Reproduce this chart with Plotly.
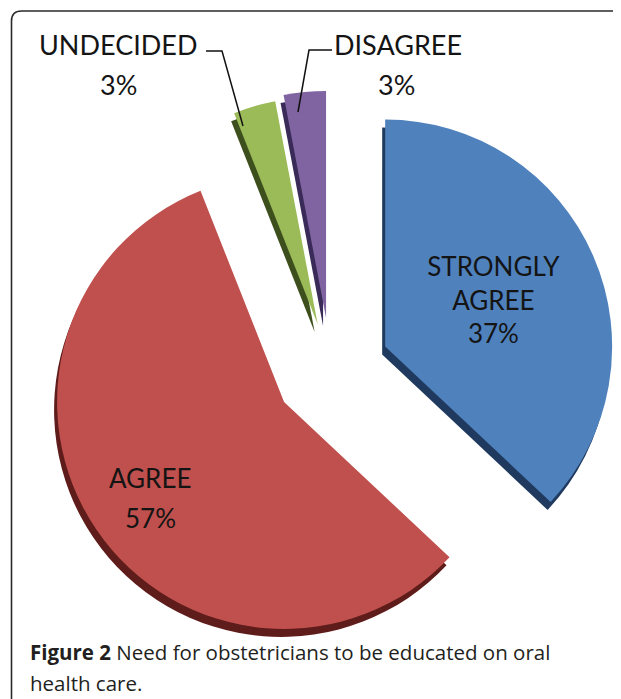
import plotly.graph_objects as go

# ---- data ----
labels = ["STRONGLY AGREE", "AGREE", "UNDECIDED", "DISAGREE"]
label_lines = ["STRONGLY<br>AGREE", "AGREE", "UNDECIDED", "DISAGREE"]
values = [37, 57, 3, 3]
pulls = [0.26, 0.25, 0.21, 0.23]
colors = ["#4F81BD", "#C0504D", "#9BBB59", "#8064A2"]
side_colors = ["#1F3A5E", "#5E1C1A", "#3E4F1E", "#3A2A58"]
caption_bold = "Figure 2"
caption_line1 = "Need for obstetricians to be educated on oral"
caption_line2 = "health care."

# page is 621x699; the html body adds an 8px margin
OFF = 8
W, H = 621 - OFF, 699 - OFF
FONT = "Lato"
TXT = "#141414"


def fx(x):
    return (x - OFF) / W


def fy(y):
    return 1 - (y - OFF) / H


def px(x, y):
    return f"{fx(x)} {fy(y)}"


# pie geometry (page pixels)
cx, cy = 331, 370
side = 572
dom_x = [fx(cx - side / 2), fx(cx + side / 2)]
dom_y = [fy(cy + side / 2), fy(cy - side / 2)]
# depth (3D side) offset
ddx, ddy = -3 / W, -8 / H

total = sum(values)
pct = [f"{round(100 * v / total)}%" for v in values]
inside_text = [f"{label_lines[0]}<br>{pct[0]}", "", "", ""]

fig = go.Figure()
fig.add_trace(go.Pie(
    labels=labels, values=values, pull=pulls, sort=False, direction="clockwise",
    rotation=0, marker=dict(colors=side_colors, line=dict(width=0)),
    textinfo="none", hoverinfo="skip", showlegend=False,
    domain=dict(x=[dom_x[0] + ddx, dom_x[1] + ddx], y=[dom_y[0] + ddy, dom_y[1] + ddy]),
))
fig.add_trace(go.Pie(
    labels=labels, values=values, pull=pulls, sort=False, direction="clockwise",
    rotation=0, marker=dict(colors=colors, line=dict(width=0)),
    text=inside_text, texttemplate="%{text}", textposition="inside",
    insidetextorientation="horizontal",
    textfont=dict(family=FONT, size=26, color=TXT),
    showlegend=False,
    domain=dict(x=dom_x, y=dom_y),
))

ann = []


def label(x, y, text, size=27, anchor="center", family=FONT, color=TXT):
    ann.append(dict(x=fx(x), y=fy(y), xref="paper", yref="paper", text=text,
                    xanchor=anchor, yanchor="middle", showarrow=False,
                    font=dict(family=family, size=size, color=color)))


# outside labels for the small slices
label(118, 45, labels[2])
label(118, 85, pct[2])
label(398, 45, labels[3])
label(396, 85, pct[3])
# label for the big red slice
label(150, 478, labels[1], size=26)
label(150, 518, pct[1], size=26)

# caption
label(28, 652, f"<b>{caption_bold}</b> {caption_line1}", size=20.5, anchor="left",
      family="Open Sans", color="#231F20")
label(28, 683, caption_line2, size=20.5, anchor="left",
      family="Open Sans", color="#231F20")

shapes = [
    # leader lines
    dict(type="path", xref="paper", yref="paper",
         path=f"M {px(206, 51)} L {px(222, 51)} L {px(243, 126)}",
         line=dict(color="#111", width=1.5)),
    dict(type="path", xref="paper", yref="paper",
         path=f"M {px(332, 50)} L {px(309, 50)} L {px(298, 112)}",
         line=dict(color="#111", width=1.5)),
    # frame (rounded top-left corner, open bottom and right)
    dict(type="path", xref="paper", yref="paper",
         path=(f"M {px(11.5, 705)} L {px(11.5, 21)} Q {px(11.5, 11)} {px(21.5, 11)} "
               f"L {px(630, 11)}"),
         line=dict(color="#2a2a2a", width=1.6)),
]

fig.update_layout(
    width=W, height=H, margin=dict(l=0, r=0, t=0, b=0),
    paper_bgcolor="white", plot_bgcolor="white",
    annotations=ann, shapes=shapes,
)
fig.write_html("out.html")
